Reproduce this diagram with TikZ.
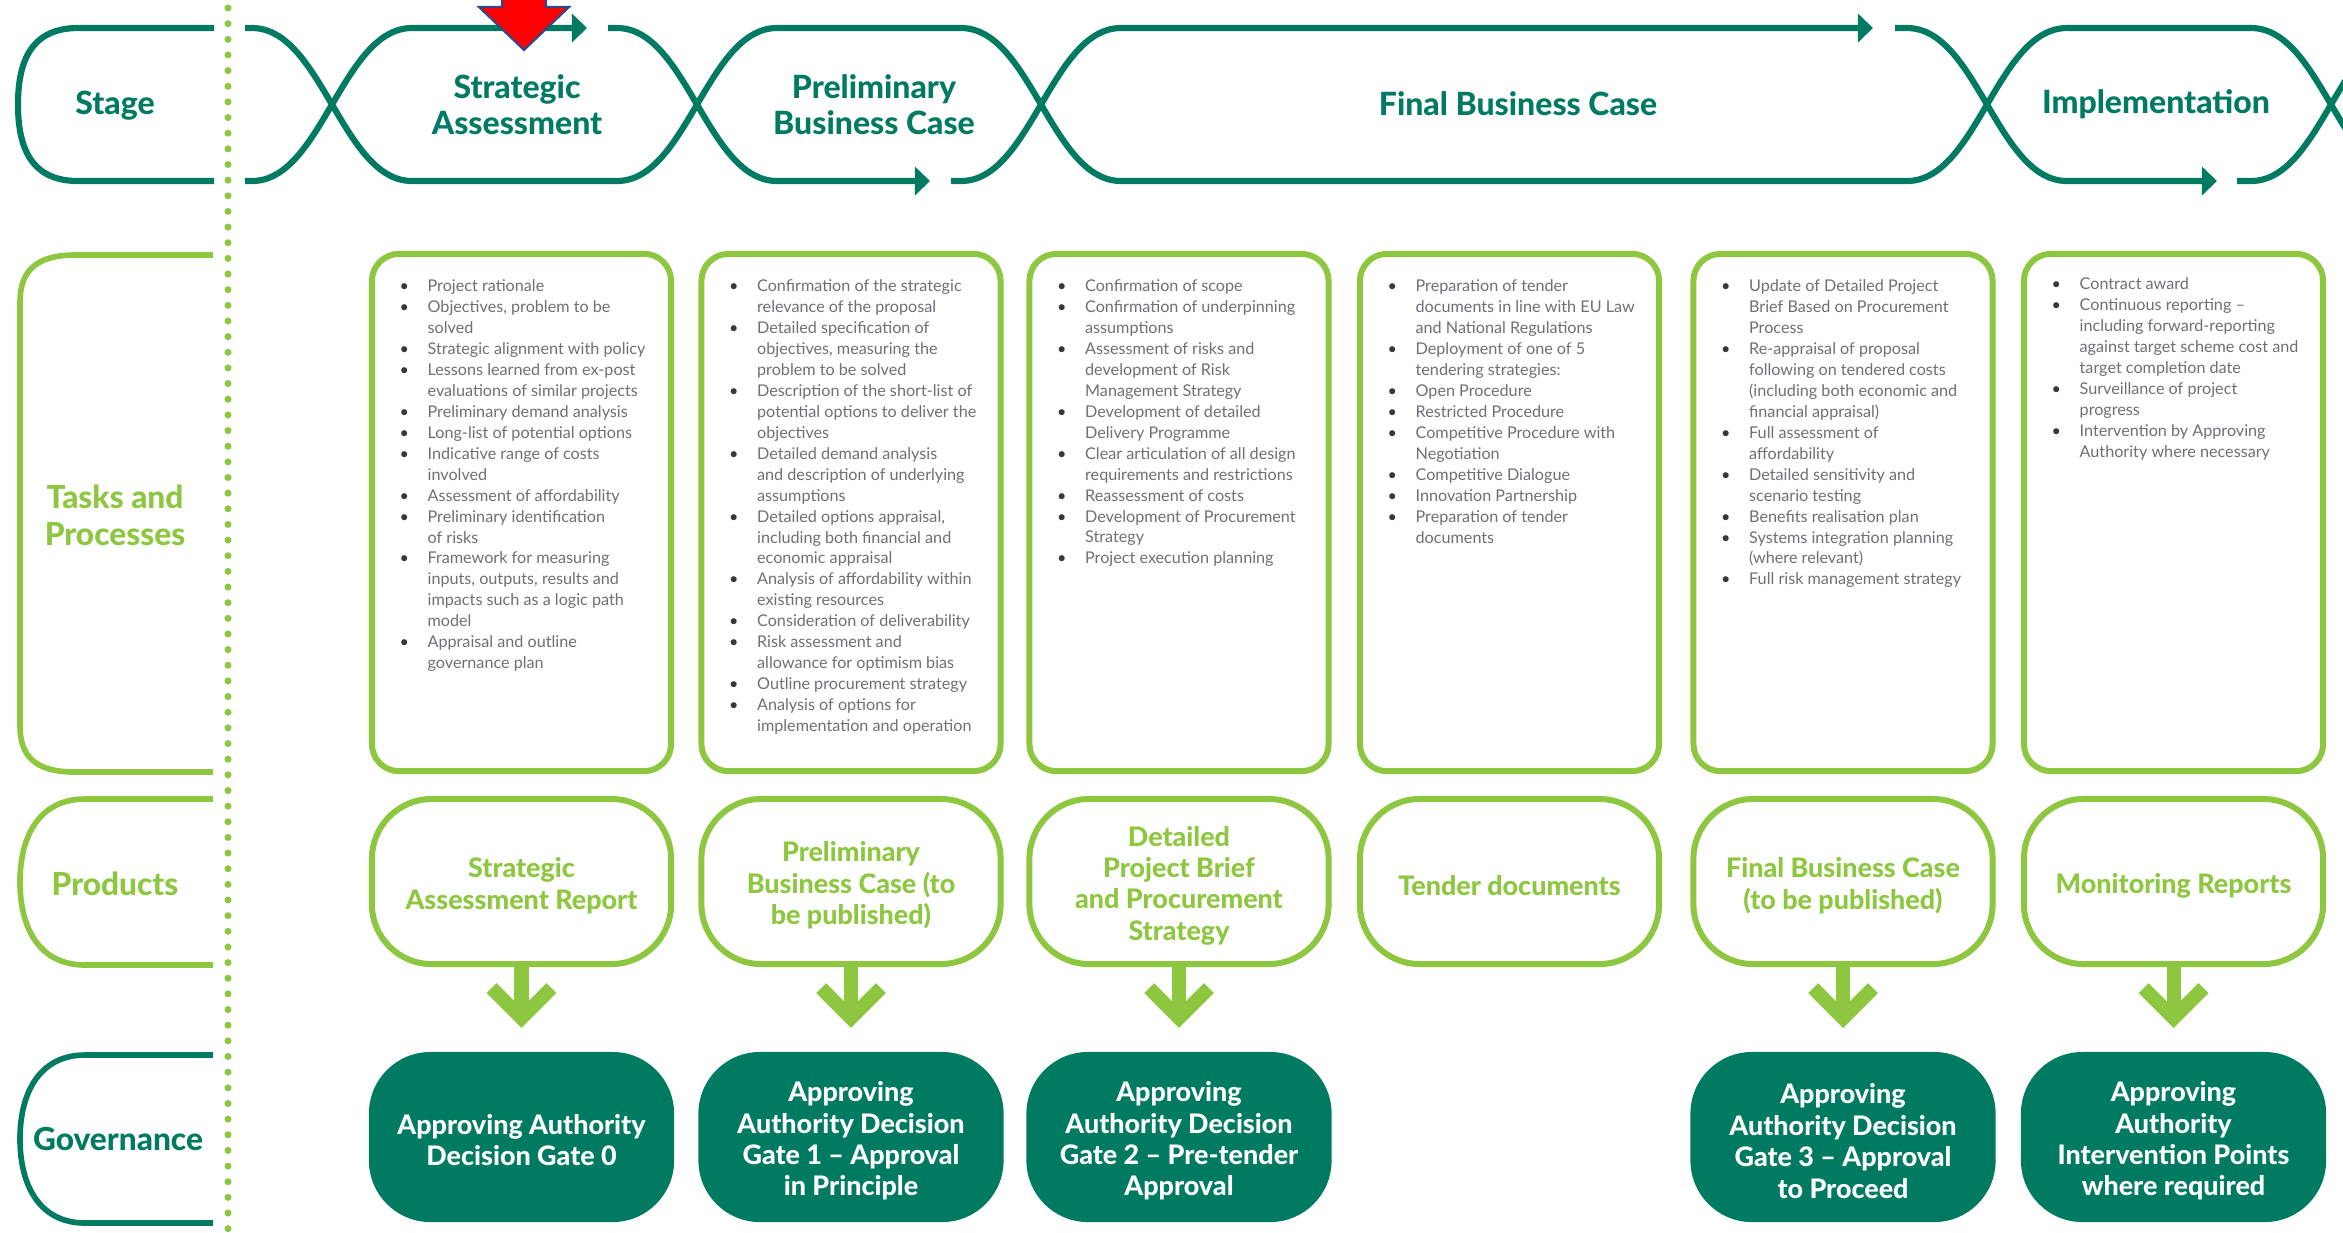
\documentclass[tikz,border=0pt]{standalone}
\usepackage{fontspec}
\IfFontExistsTF{Lato Heavy}{\setmainfont{Lato}[BoldFont={Lato Heavy}]}{\setmainfont{Lato}}
\usetikzlibrary{arrows.meta,calc}
\definecolor{dteal}{RGB}{0,122,96}
\definecolor{lgreen}{RGB}{141,198,63}
\definecolor{txtgray}{RGB}{112,110,118}
\definecolor{bulgray}{RGB}{55,55,60}
\definecolor{arrblue}{RGB}{47,72,140}
\newcommand\bi{\makebox[7.97pt][l]{\textcolor{bulgray}{•}}}
\newcommand\ci{\hspace*{7.97pt}}
\tikzset{
  ribbon/.style={draw=dteal, line width=1.75pt},
  ribtip/.style={-{Triangle[length=4.3pt,width=8pt]}},
  bracketg/.style={draw=lgreen, line width=1.6pt},
  brackett/.style={draw=dteal, line width=1.6pt},
  dotline/.style={draw=lgreen, line width=2pt, line cap=round, dash pattern=on 0pt off 4.45pt},
  stagetxt/.style={font=\bfseries\fontsize{9.1}{10.3}\selectfont, text=dteal, align=center, inner sep=0},
  rowlabel/.style={font=\bfseries\fontsize{9.0}{10.6}\selectfont, align=center, inner sep=0},
  taskbox/.style={draw=lgreen, line width=1.7pt, rounded corners=7.7pt, minimum width=2.99cm, minimum height=5.17cm, inner sep=0, outer sep=0},
  prodbox/.style={draw=lgreen, line width=1.7pt, rounded corners=17pt, minimum width=2.99cm, minimum height=1.65cm, inner sep=0, outer sep=0},
  prodtxt/.style={inner sep=0, text=lgreen, align=center, font=\bfseries\fontsize{7.65}{8.93}\selectfont},
  govbox/.style={fill=dteal, rounded corners=17.5pt, minimum width=3.05cm, minimum height=1.70cm, inner sep=0, outer sep=0},
  govtxt/.style={inner sep=0, text=white, align=center, font=\bfseries\fontsize{7.65}{8.93}\selectfont},
  tasktxt/.style={anchor=north west, inner sep=0, align=left, text=txtgray, font=\fontsize{4.6}{5.96}\selectfont},
  garrow/.style={draw=lgreen, line width=4pt, -{Straight Barb[length=8.5pt,width=17pt]}, shorten >=0.24cm},
}
\begin{document}
\begin{tikzpicture}[x=0.01cm,y=-0.01cm]
\useasboundingbox (0,0) rectangle (2343,1232);
\clip (0,0) rectangle (2343,1232);
\fill[white] (0,0) rectangle (2343,1232);

% ---------- stage ribbon ----------
\draw[ribbon] (214,28) -- (78,28) .. controls (32,28) and (18,60) .. (18,104.5) .. controls (18,149) and (32,181) .. (78,181) -- (214,181);
\draw[ribbon] (245,28) -- (252,28) .. controls (322,28) and (342,181) .. (412,181) -- (617,181) .. controls (687,181) and (707,28) .. (777,28) -- (961,28) .. controls (1031,28) and (1051,181) .. (1121,181) -- (1907,181) .. controls (1977,181) and (1997,28) .. (2067,28) -- (2251,28) .. controls (2321,28) and (2341,181) .. (2411,181);
\draw[ribbon,ribtip] (245,181) -- (252,181) .. controls (322,181) and (342,28) .. (412,28) -- (587,28);
\draw[ribbon,ribtip] (608,28) -- (617,28) .. controls (687,28) and (707,181) .. (777,181) -- (930,181);
\draw[ribbon,ribtip] (951,181) -- (961,181) .. controls (1031,181) and (1051,28) .. (1121,28) -- (1873,28);
\draw[ribbon,ribtip] (1895,28) -- (1907,28) .. controls (1977,28) and (1997,181) .. (2067,181) -- (2217,181);
\draw[ribbon] (2237,181) -- (2251,181) .. controls (2321,181) and (2341,28) .. (2411,28);

\node[stagetxt] (tStage) at (115,106) {Stage};
\node[stagetxt] (tSA) at (517,105) {Strategic\\Assessment};
\node[stagetxt] (tPBC) at (874,105) {Preliminary\\Business Case};
\node[stagetxt] (tFBC) at (1518,104) {Final Business Case};
\node[stagetxt] (tImpl) at (2156,104) {Implementation};

% red marker
\draw[fill=red, draw=arrblue, line width=0.6pt] (502,-5) -- (546,-5) -- (546,7) -- (569,7) -- (524,50) -- (479,7) -- (502,7) -- cycle;

% ---------- left brackets ----------
\draw[bracketg] (213,255) -- (75,255) .. controls (35,255) and (20,272) .. (20,302) -- (20,726) .. controls (20,756) and (35,772) .. (75,772) -- (213,772);
\draw[bracketg] (213,799) -- (85,799) .. controls (40,799) and (20,835) .. (20,882) .. controls (20,929) and (40,965) .. (85,965) -- (213,965);
\draw[brackett] (213,1055) -- (85,1055) .. controls (40,1055) and (20,1092) .. (20,1139) .. controls (20,1186) and (40,1223) .. (85,1223) -- (213,1223);
\node[rowlabel, text=lgreen] (lTasks) at (115,515) {Tasks and\\Processes};
\node[rowlabel, text=lgreen] (lProd) at (115,884) {Products};
\node[rowlabel, text=dteal] (lGov) at (118,1139) {Governance};

\draw[dotline] (228,8) -- (228,1240);

% ---------- task boxes ----------
\node[taskbox] (b1) at (521.5,512.5) {};
\node[taskbox] (b2) at (851,512.5) {};
\node[taskbox] (b3) at (1179,512.5) {};
\node[taskbox] (b4) at (1509.5,512.5) {};
\node[taskbox] (b5) at (1843,512.5) {};
\node[taskbox] (b6) at (2173.5,512.5) {};

\node[tasktxt] (x1) at ($(b1.north west)+(27,25)$) {\bi Project rationale\\ \bi Objectives, problem to be\\ \ci solved\\ \bi Strategic alignment with policy\\ \bi Lessons learned from ex-post\\ \ci evaluations of similar projects\\ \bi Preliminary demand analysis\\ \bi Long-list of potential options\\ \bi Indicative range of costs\\ \ci involved\\ \bi Assessment of affordability\\ \bi Preliminary identification\\ \ci of risks\\ \bi Framework for measuring\\ \ci inputs, outputs, results and\\ \ci impacts such as a logic path\\ \ci model\\ \bi Appraisal and outline\\ \ci governance plan};

\node[tasktxt] (x2) at ($(b2.north west)+(27,25)$) {\bi Confirmation of the strategic\\ \ci relevance of the proposal\\ \bi Detailed specification of\\ \ci objectives, measuring the\\ \ci problem to be solved\\ \bi Description of the short-list of\\ \ci potential options to deliver the\\ \ci objectives\\ \bi Detailed demand analysis\\ \ci and description of underlying\\ \ci assumptions\\ \bi Detailed options appraisal,\\ \ci including both financial and\\ \ci economic appraisal\\ \bi Analysis of affordability within\\ \ci existing resources\\ \bi Consideration of deliverability\\ \bi Risk assessment and\\ \ci allowance for optimism bias\\ \bi Outline procurement strategy\\ \bi Analysis of options for\\ \ci implementation and operation};

\node[tasktxt] (x3) at ($(b3.north west)+(27,25)$) {\bi Confirmation of scope\\ \bi Confirmation of underpinning\\ \ci assumptions\\ \bi Assessment of risks and\\ \ci development of Risk\\ \ci Management Strategy\\ \bi Development of detailed\\ \ci Delivery Programme\\ \bi Clear articulation of all design\\ \ci requirements and restrictions\\ \bi Reassessment of costs\\ \bi Development of Procurement\\ \ci Strategy\\ \bi Project execution planning};

\node[tasktxt] (x4) at ($(b4.north west)+(27,25)$) {\bi Preparation of tender\\ \ci documents in line with EU Law\\ \ci and National Regulations\\ \bi Deployment of one of 5\\ \ci tendering strategies:\\ \bi Open Procedure\\ \bi Restricted Procedure\\ \bi Competitive Procedure with\\ \ci Negotiation\\ \bi Competitive Dialogue\\ \bi Innovation Partnership\\ \bi Preparation of tender\\ \ci documents};

\node[tasktxt] (x5) at ($(b5.north west)+(27,25)$) {\bi Update of Detailed Project\\ \ci Brief Based on Procurement\\ \ci Process\\ \bi Re-appraisal of proposal\\ \ci following on tendered costs\\ \ci (including both economic and\\ \ci financial appraisal)\\ \bi Full assessment of\\ \ci affordability\\ \bi Detailed sensitivity and\\ \ci scenario testing\\ \bi Benefits realisation plan\\ \bi Systems integration planning\\ \ci (where relevant)\\ \bi Full risk management strategy};

\node[tasktxt] (x6) at ($(b6.north west)+(27,23)$) {\bi Contract award\\ \bi Continuous reporting --\\ \ci including forward-reporting\\ \ci against target scheme cost and\\ \ci target completion date\\ \bi Surveillance of project\\ \ci progress\\ \bi Intervention by Approving\\ \ci Authority where necessary};

% ---------- products ----------
\node[prodbox] (p1) at (521.5,881.5) {};
\node[prodbox] (p2) at (851,881.5) {};
\node[prodbox] (p3) at (1179,881.5) {};
\node[prodbox] (p4) at (1509.5,881.5) {};
\node[prodbox] (p5) at (1843,881.5) {};
\node[prodbox] (p6) at (2173.5,881.5) {};
\node[prodtxt] (p1t) at ($(p1)+(0,4)$) {Strategic\\Assessment Report};
\node[prodtxt] (p2t) at ($(p2)+(0,4)$) {Preliminary\\Business Case (to\\be published)};
\node[prodtxt] (p3t) at ($(p3)+(0,4)$) {Detailed\\Project Brief\\and Procurement\\Strategy};
\node[prodtxt] (p4t) at ($(p4)+(0,4)$) {Tender documents};
\node[prodtxt] (p5t) at ($(p5)+(0,4)$) {Final Business Case\\(to be published)};
\node[prodtxt] (p6t) at ($(p6)+(0,4)$) {Monitoring Reports};

% ---------- governance ----------
\node[govbox] (g1) at (521.5,1137) {};
\node[govbox] (g2) at (851,1137) {};
\node[govbox] (g3) at (1179,1137) {};
\node[govbox] (g5) at (1843,1137) {};
\node[govbox] (g6) at (2173.5,1137) {};
\node[govtxt] (g1t) at ($(g1)+(0,3)$) {Approving Authority\\Decision Gate 0};
\node[govtxt] (g2t) at ($(g2)+(0,4)$) {Approving\\Authority Decision\\Gate 1 -- Approval\\in Principle};
\node[govtxt] (g3t) at ($(g3)+(0,4)$) {Approving\\Authority Decision\\Gate 2 -- Pre-tender\\Approval};
\node[govtxt] (g5t) at ($(g5)+(0,4)$) {Approving\\Authority Decision\\Gate 3 -- Approval\\to Proceed};
\node[govtxt] (g6t) at ($(g6)+(0,4)$) {Approving\\Authority\\Intervention Points\\where required};

\draw[garrow] (p1.south) -- (g1.north);
\draw[garrow] (p2.south) -- (g2.north);
\draw[garrow] (p3.south) -- (g3.north);
\draw[garrow] (p5.south) -- (g5.north);
\draw[garrow] (p6.south) -- (g6.north);
\end{tikzpicture}
\end{document}
